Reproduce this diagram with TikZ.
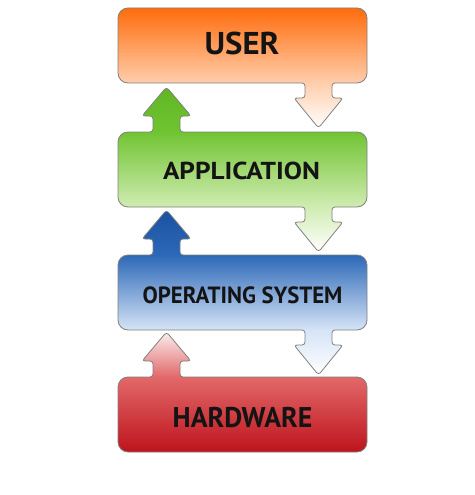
\documentclass[tikz,border=0pt]{standalone}
\usepackage{fontspec}
\usepackage{graphicx}
\usepackage{tikz}
\newfontfamily\layerfont{PT Sans}

% layer colours
\definecolor{usertop}{RGB}{255,108,12}
\definecolor{userlow}{RGB}{255,206,172}
\definecolor{apptop}{RGB}{96,182,34}
\definecolor{appmid}{RGB}{112,196,50}
\definecolor{applow}{RGB}{208,236,178}
\definecolor{ostop}{RGB}{26,82,160}
\definecolor{osmid}{RGB}{44,104,184}
\definecolor{oslow}{RGB}{214,228,246}
\definecolor{hwtip}{RGB}{250,238,238}
\definecolor{hwmid}{RGB}{226,104,106}
\definecolor{hwlow}{RGB}{190,20,28}

\pgfdeclareverticalshading{usershade}{100bp}{color(0bp)=(white); color(25bp)=(white); color(43.75bp)=(userlow); color(75bp)=(usertop); color(100bp)=(usertop)}
\pgfdeclareverticalshading{appshade}{100bp}{color(0bp)=(white); color(25bp)=(white); color(38.6bp)=(applow); color(61.4bp)=(appmid); color(75bp)=(apptop); color(100bp)=(apptop)}
\pgfdeclareverticalshading{osshade}{100bp}{color(0bp)=(white); color(25bp)=(white); color(38.6bp)=(oslow); color(61.4bp)=(osmid); color(75bp)=(ostop); color(100bp)=(ostop)}
\pgfdeclareverticalshading{hwshade}{100bp}{color(0bp)=(hwlow); color(25bp)=(hwlow); color(56.25bp)=(hwmid); color(75bp)=(hwtip); color(100bp)=(hwtip)}

\begin{document}
\begin{tikzpicture}[x=1pt, y=-1pt,
    layer/.style={draw=black!50, line width=0.8pt},
    layertext/.style={font=\layerfont\bfseries\fontsize{#1}{#1}\selectfont, text=black!92, inner sep=0pt}]
    \useasboundingbox (0,0) rectangle (474,495);

    % User: box with arrow down
    \begin{scope}[shift={(0,8)}]
        \shadedraw[layer, shading=usershade] (118,37) [rounded corners=10pt] -- (118,0) -- (367,0) -- (367,75) -- (345,75)
            [rounded corners=3pt] -- (332,75) -- (332,90) -- (343,90) -- (318.5,120) -- (294,90) -- (305,90) -- (305,75) -- (250,75)
            [rounded corners=10pt] -- (118,75) -- cycle;
        \node[layertext=31.5] (user) at (242,35.5) {\scalebox{1.04}[1]{USER}};
    \end{scope}

    % Application: arrow up, box, arrow down
    \begin{scope}[shift={(0,132)}]
        \shadedraw[layer, shading=appshade] (118,37) [rounded corners=10pt] -- (118,0) -- (140,0)
            [rounded corners=3pt] -- (153,0) -- (153,-16) -- (142,-16) -- (166.5,-45) -- (191,-16) -- (180,-16) -- (180,0) -- (240,0)
            [rounded corners=10pt] -- (367,0) -- (367,75) -- (345,75)
            [rounded corners=3pt] -- (332,75) -- (332,90) -- (343,90) -- (318.5,120) -- (294,90) -- (305,90) -- (305,75) -- (250,75)
            [rounded corners=10pt] -- (118,75) -- cycle;
        \node[layertext=24.5] (app) at (241.5,39) {\scalebox{1.11}[1]{APPLICATION}};
    \end{scope}

    % Operating system: arrow up, box, arrow down
    \begin{scope}[shift={(0,255)}]
        \shadedraw[layer, shading=osshade] (118,37) [rounded corners=10pt] -- (118,0) -- (140,0)
            [rounded corners=3pt] -- (153,0) -- (153,-16) -- (142,-16) -- (166.5,-45) -- (191,-16) -- (180,-16) -- (180,0) -- (240,0)
            [rounded corners=10pt] -- (367,0) -- (367,75) -- (345,75)
            [rounded corners=3pt] -- (332,75) -- (332,90) -- (343,90) -- (318.5,120) -- (294,90) -- (305,90) -- (305,75) -- (250,75)
            [rounded corners=10pt] -- (118,75) -- cycle;
        \node[layertext=23.5] (os) at (242.5,40) {\scalebox{0.97}[1]{OPERATING SYSTEM}};
    \end{scope}

    % Hardware: arrow up, box
    \begin{scope}[shift={(0,377)}]
        \shadedraw[layer, shading=hwshade] (118,37) [rounded corners=10pt] -- (118,0) -- (140,0)
            [rounded corners=3pt] -- (153,0) -- (153,-16) -- (142,-16) -- (166.5,-45) -- (191,-16) -- (180,-16) -- (180,0) -- (240,0)
            [rounded corners=10pt] -- (367,0) -- (367,75) -- (118,75) -- cycle;
        \node[layertext=28.5] (hw) at (242.5,41) {\scalebox{0.975}[1]{HARDWARE}};
    \end{scope}
\end{tikzpicture}
\end{document}
